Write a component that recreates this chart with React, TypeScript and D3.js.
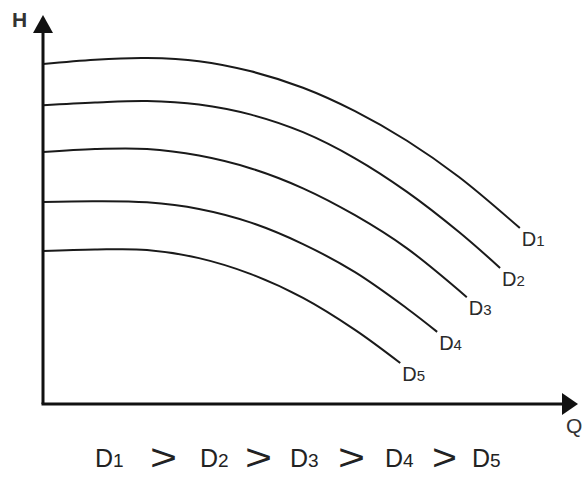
import React from "react";
import * as d3 from "d3";

const seriesNames = ["D1", "D2", "D3", "D4", "D5"];
const d1Q = [0, 1, 2, 3, 4, 5, 6, 7, 8, 9.17];
const d1H = [8.72, 8.83, 8.87, 8.79, 8.53, 8.11, 7.51, 6.75, 5.82, 4.51];
const d2Q = [0, 1, 2, 3, 4, 5, 6, 7, 8, 8.79];
const d2H = [7.66, 7.73, 7.77, 7.68, 7.42, 6.97, 6.3, 5.44, 4.41, 3.49];
const d3Q = [0, 1, 2, 3, 4, 5, 6, 7, 8.15];
const d3H = [6.46, 6.54, 6.54, 6.37, 6.04, 5.53, 4.84, 3.99, 2.74];
const d4Q = [0, 1, 2, 3, 4, 5, 6, 7, 7.58];
const d4H = [5.18, 5.2, 5.17, 5.0, 4.65, 4.1, 3.38, 2.45, 1.85];
const d5Q = [0, 1, 2, 3, 4, 5, 6, 6.87];
const d5H = [3.92, 3.96, 3.95, 3.74, 3.33, 2.72, 1.9, 1.05];
const allQ = [d1Q, d2Q, d3Q, d4Q, d5Q];
const allH = [d1H, d2H, d3H, d4H, d5H];

const W = 582;
const H = 477;

export default function App() {
  const x = d3.scaleLinear().domain([0, 10]).range([43, 563]);
  const y = d3.scaleLinear().domain([0, 10]).range([404, 14]);
  const line = d3
    .line<[number, number]>()
    .x((d) => x(d[0]))
    .y((d) => y(d[1]))
    .curve(d3.curveCatmullRom.alpha(0.5));
  const font = "'Liberation Sans', Arial, sans-serif";
  const x0 = x(0);
  const y0 = y(0);
  const relX = [95, 200, 290, 385, 472];
  const gtX = [150, 245, 338, 432];
  return (
    <svg
      width={W}
      height={H}
      style={{ position: "absolute", left: 0, top: 0, background: "#fff" }}
    >
      <rect x={0} y={0} width={W} height={H} fill="#fff" />
      {allQ.map((qs, i) => {
        const pts: [number, number][] = qs.map((q, j) => [q, allH[i][j]]);
        const last = pts[pts.length - 1];
        return (
          <g key={i}>
            <path d={line(pts) || ""} fill="none" stroke="#1a1a1a" strokeWidth={2} />
            <text
              x={x(last[0]) + 2}
              y={y(last[1]) + 18}
              fontFamily={font}
              fontSize={20}
              fill="#2a2a2a"
            >
              {seriesNames[i].slice(0, 1)}
              <tspan fontSize={15}>{seriesNames[i].slice(1)}</tspan>
            </text>
          </g>
        );
      })}
      <line x1={x0} y1={y0} x2={x0} y2={y(10) + 10} stroke="#111" strokeWidth={3} />
      <line x1={x0 - 1.5} y1={y0} x2={x(10)} y2={y0} stroke="#111" strokeWidth={3} />
      <path
        d={`M${x0},${y(10) + 1} L${x0 - 10},${y(10) + 19} L${x0 + 10},${y(10) + 19} Z`}
        fill="#111"
      />
      <path
        d={`M${x(10) + 15},${y0} L${x(10) - 1},${y0 - 11} L${x(10) - 1},${y0 + 11} Z`}
        fill="#111"
      />
      <text x={12} y={27} fontFamily={font} fontSize={21} fontWeight="bold" fill="#333">
        H
      </text>
      <text x={566} y={433} fontFamily={font} fontSize={21} fill="#333">
        Q
      </text>
      <g fontFamily={font} fill="#222">
        {seriesNames.map((n, i) => (
          <g key={n}>
            <text x={relX[i]} y={467} fontSize={25}>
              {n.slice(0, 1)}
              <tspan fontSize={19}>{n.slice(1)}</tspan>
            </text>
            {i < gtX.length && (
              <text
                x={gtX[i]}
                y={470}
                fontSize={36}
                textLength={i === 3 ? 25 : 27}
                lengthAdjust="spacingAndGlyphs"
              >
                &gt;
              </text>
            )}
          </g>
        ))}
      </g>
    </svg>
  );
}
